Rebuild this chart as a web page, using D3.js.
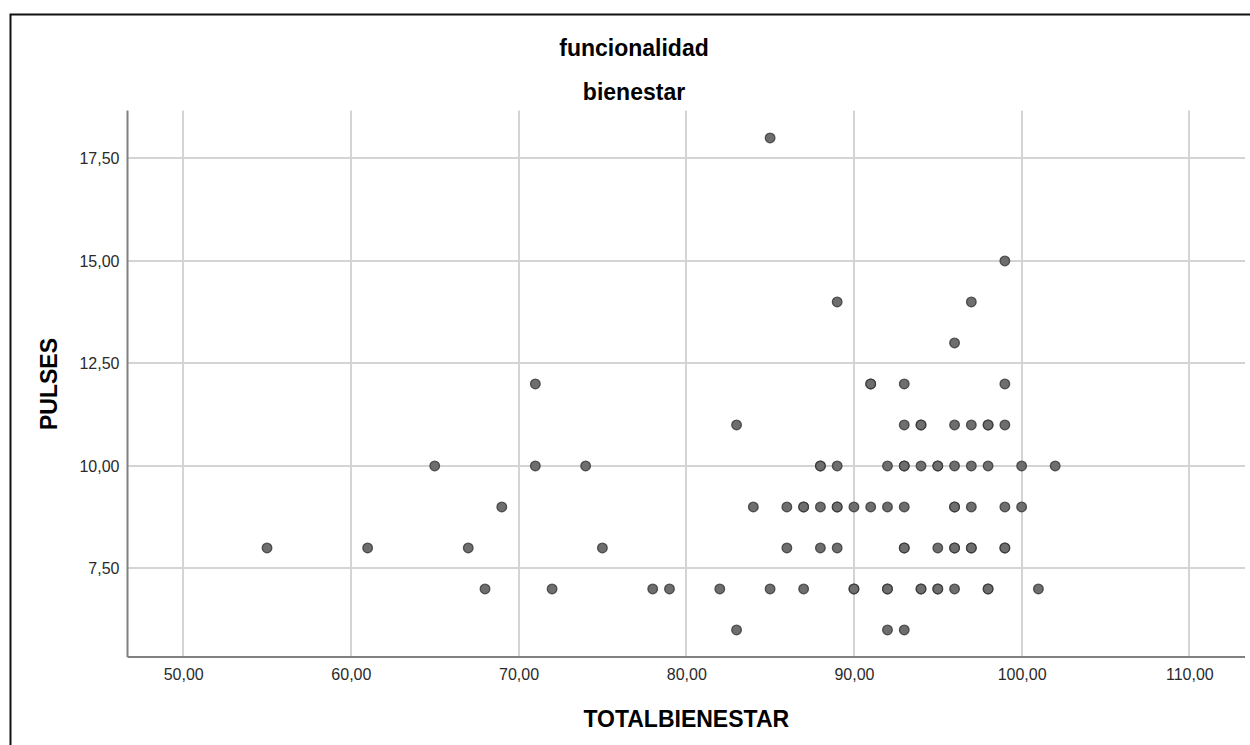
<!DOCTYPE html>
<html>
<head>
<meta charset="utf-8">
<script src="https://cdn.jsdelivr.net/npm/d3@7"></script>
<style>
  body { margin: 0; background: #fff; }
  svg { display: block; font-family: "Liberation Sans", Arial, sans-serif; }
</style>
</head>
<body>
<svg id="chart" width="1250" height="745"></svg>
<script>
// TOTALBIENESTAR (x) and PULSES (y), one entry per case (duplicates overlap)
var totalBienestar = [
  85,
  99,
  89, 97,
  96,
  71, 91, 91, 93, 99,
  83, 93, 94, 94, 96, 97, 98, 98, 99,
  65, 71, 74, 88, 88, 89, 92, 93, 93, 94, 95, 95, 96, 97, 98, 100, 102,
  69, 84, 86, 87, 87, 88, 89, 89, 90, 91, 92, 93, 96, 96, 97, 99, 100,
  55, 61, 67, 75, 86, 88, 89, 93, 93, 95, 96, 96, 97, 97, 99, 99,
  68, 72, 78, 79, 82, 85, 87, 90, 90, 92, 92, 94, 94, 95, 95, 96, 98, 98, 101,
  83, 92, 93
];
var pulses = [
  18,
  15,
  14, 14,
  13,
  12, 12, 12, 12, 12,
  11, 11, 11, 11, 11, 11, 11, 11, 11,
  10, 10, 10, 10, 10, 10, 10, 10, 10, 10, 10, 10, 10, 10, 10, 10, 10,
  9, 9, 9, 9, 9, 9, 9, 9, 9, 9, 9, 9, 9, 9, 9, 9, 9,
  8, 8, 8, 8, 8, 8, 8, 8, 8, 8, 8, 8, 8, 8, 8, 8,
  7, 7, 7, 7, 7, 7, 7, 7, 7, 7, 7, 7, 7, 7, 7, 7, 7, 7, 7,
  6, 6, 6
];
var xTicks = [50, 60, 70, 80, 90, 100, 110];
var yTicks = [7.5, 10, 12.5, 15, 17.5];
var titleLines = ["funcionalidad", "bienestar"];
var xLabel = "TOTALBIENESTAR";
var yLabel = "PULSES";

var points = totalBienestar.map(function(d, i) { return {x: d, y: pulses[i]}; });

var svg = d3.select("#chart");
var plotLeft = 127.5, plotRight = 1245, plotTop = 110.5, plotBottom = 657;

// outer frame
svg.append("path")
    .attr("d", "M10.5,745 L10.5,14.5 L1250,14.5")
    .attr("fill", "none")
    .attr("stroke", "#111")
    .attr("stroke-width", 2);

var x = d3.scaleLinear().domain([46.68, 113.32]).range([plotLeft, plotRight]);
var y = d3.scaleLinear().domain([5.34, 18.67]).range([plotBottom, plotTop]);

var fmt = function(d) { return d3.format(".2f")(d).replace(".", ","); };

// gridlines
svg.append("g")
  .selectAll("line")
  .data(xTicks)
  .enter().append("line")
    .attr("x1", function(d) { return Math.round(x(d)); })
    .attr("x2", function(d) { return Math.round(x(d)); })
    .attr("y1", plotTop)
    .attr("y2", plotBottom)
    .attr("stroke", "#d4d4d4")
    .attr("stroke-width", 2);

svg.append("g")
  .selectAll("line")
  .data(yTicks)
  .enter().append("line")
    .attr("x1", plotLeft)
    .attr("x2", plotRight)
    .attr("y1", function(d) { return Math.round(y(d)); })
    .attr("y2", function(d) { return Math.round(y(d)); })
    .attr("stroke", "#d4d4d4")
    .attr("stroke-width", 2);

// axes
var xAxis = svg.append("g")
    .attr("transform", "translate(0," + plotBottom + ")")
    .call(d3.axisBottom(x).tickValues(xTicks).tickSize(0).tickPadding(12).tickFormat(fmt));
var yAxis = svg.append("g")
    .attr("transform", "translate(" + plotLeft + ",0)")
    .call(d3.axisLeft(y).tickValues(yTicks).tickSize(0).tickPadding(8).tickFormat(fmt));

[xAxis, yAxis].forEach(function(a) {
  a.select(".domain").attr("stroke", "#808080").attr("stroke-width", 2);
  a.selectAll("text")
    .attr("font-family", "Liberation Sans, Arial, sans-serif")
    .attr("font-size", 16)
    .attr("fill", "#2a2a2a");
});
xAxis.select(".domain").attr("d", "M" + plotLeft + ",0H" + plotRight);
yAxis.select(".domain").attr("d", "M0," + plotTop + "V" + plotBottom);

// points
svg.append("g")
  .selectAll("circle")
  .data(points)
  .enter().append("circle")
    .attr("cx", function(d) { return x(d.x); })
    .attr("cy", function(d) { return y(d.y); })
    .attr("r", 4.8)
    .attr("fill", "#6e6e6e")
    .attr("stroke", "#333")
    .attr("stroke-width", 1.3)
    .attr("stroke-opacity", 0.8);

// titles
svg.selectAll(".title")
  .data(titleLines)
  .enter().append("text")
    .attr("class", "title")
    .attr("x", 634)
    .attr("y", function(d, i) { return 56 + i * 44; })
    .attr("text-anchor", "middle")
    .attr("font-size", 23)
    .attr("font-weight", "bold")
    .text(function(d) { return d; });

svg.append("text")
    .attr("x", x(80))
    .attr("y", 727)
    .attr("text-anchor", "middle")
    .attr("font-size", 23)
    .attr("font-weight", "bold")
    .text(xLabel);

svg.append("text")
    .attr("transform", "translate(57," + y(12) + ") rotate(-90)")
    .attr("text-anchor", "middle")
    .attr("font-size", 23)
    .attr("font-weight", "bold")
    .text(yLabel);
</script>
</body>
</html>
